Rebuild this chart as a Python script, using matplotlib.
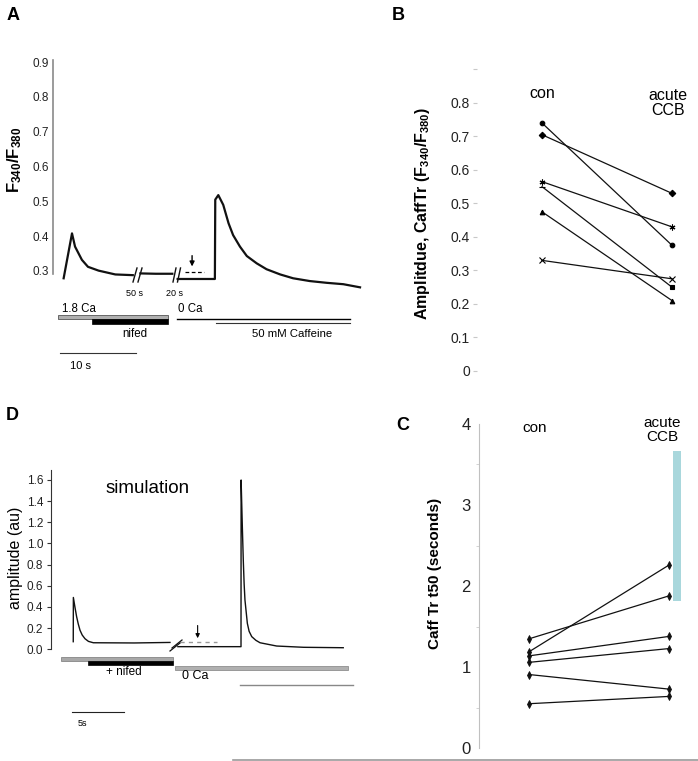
import matplotlib
matplotlib.use("Agg")
import matplotlib.pyplot as plt
from matplotlib.lines import Line2D
from matplotlib.patches import Rectangle

plt.rcParams['font.family'] = ['Liberation Sans', 'DejaVu Sans']
plt.rcParams['mathtext.fontset'] = 'custom'
plt.rcParams['mathtext.rm'] = 'Liberation Sans'
plt.rcParams['mathtext.bf'] = 'Liberation Sans:bold'
plt.rcParams['mathtext.it'] = 'Liberation Sans:italic'

# ---------------- data ----------------
# Panel A: measured F340/F380 trace (time in s, display time with breaks)
a_t1 = [1.4, 2.5, 2.9, 3.8, 4.6, 6.0, 8.2, 10.5]
a_y1 = [0.279, 0.408, 0.370, 0.332, 0.312, 0.301, 0.290, 0.288]
a_t2 = [11.5, 13.5, 15.7]
a_y2 = [0.293, 0.292, 0.292]
a_t3 = [16.4, 21.3, 21.35, 21.75, 22.4, 23.1, 23.7, 24.6, 25.5, 26.8, 28.1,
        29.9, 31.6, 33.8, 36.0, 38.2, 40.4]
a_y3 = [0.277, 0.277, 0.505, 0.518, 0.490, 0.437, 0.403, 0.370, 0.343, 0.322,
        0.305, 0.290, 0.279, 0.271, 0.266, 0.262, 0.253]
a_ticks = [0.3, 0.4, 0.5, 0.6, 0.7, 0.8, 0.9]

# Panel B: caffeine transient amplitude
b_groups = ['con', 'acute\nCCB']
b_con = [0.74, 0.705, 0.565, 0.55, 0.475, 0.33]
b_ccb = [0.375, 0.53, 0.43, 0.25, 0.21, 0.275]
b_ticks = [0, 0.1, 0.2, 0.3, 0.4, 0.5, 0.6, 0.7, 0.8, 0.9]
b_ticklabels = ['0', '0.1', '0.2', '0.3', '0.4', '0.5', '0.6', '0.7', '0.8', '']

# Panel C: caffeine transient t50
c_groups = ['con', 'acute\nCCB']
c_con = [1.35, 1.19, 1.14, 1.06, 0.91, 0.55]
c_ccb = [1.88, 2.26, 1.38, 1.23, 0.73, 0.64]
c_band = (1.82, 3.66)
c_ticks = [0, 1, 2, 3, 4]

# Panel D: simulation trace
d_t1 = [2.14, 2.15, 2.30, 2.46, 2.62, 2.79, 3.0, 3.27, 3.6, 4.07, 8.0, 11.44]
d_y1 = [0.072, 0.49, 0.40, 0.31, 0.24, 0.18, 0.135, 0.10, 0.075, 0.062, 0.060, 0.065]
d_t2 = [12.2, 18.27, 18.28, 18.40, 18.49, 18.57, 18.65, 18.88, 19.05, 19.3,
        19.7, 20.1, 21.7, 24.3, 28.1]
d_y2 = [0.025, 0.025, 1.60, 1.15, 0.84, 0.62, 0.466, 0.245, 0.17, 0.12,
        0.085, 0.062, 0.031, 0.019, 0.015]
d_ticks = [0.0, 0.2, 0.4, 0.6, 0.8, 1.0, 1.2, 1.4, 1.6]

# ---------------- layout helpers ----------------
W, H = 698, 761
fig = plt.figure(figsize=(W / 100, H / 100), dpi=100)


def add_ax(l, t, r, b):
    return fig.add_axes([l / W, 1 - b / H, (r - l) / W, (b - t) / H])


def ftext(x, y, s, **kw):
    fig.text(x / W, 1 - y / H, s, **kw)


def fline(x1, y1, x2, y2, **kw):
    fig.add_artist(Line2D([x1 / W, x2 / W], [1 - y1 / H, 1 - y2 / H],
                          transform=fig.transFigure, **kw))


def frect(l, t, r, b, **kw):
    fig.add_artist(Rectangle((l / W, 1 - b / H), (r - l) / W, (b - t) / H,
                             transform=fig.transFigure, **kw))


# ---------------- Panel A ----------------
axA = add_ax(53, 50, 362, 300)
axA.set_xlim(0, 309 / 7.6)
axA.set_ylim(0.2166, 0.935)
for s in ['top', 'right', 'bottom']:
    axA.spines[s].set_visible(False)
axA.spines['left'].set_color('#8a8a8a')
axA.spines['left'].set_linewidth(1.2)
axA.spines['left'].set_bounds(0.29, 0.905)
axA.set_xticks([])
axA.set_yticks(a_ticks)
axA.set_yticklabels([f'{v:.1f}' for v in a_ticks])
axA.tick_params(axis='y', length=0, pad=2.7, labelsize=8.5, labelcolor='#222222')
for tt, yy in [(a_t1, a_y1), (a_t2, a_y2), (a_t3, a_y3)]:
    axA.plot(tt, yy, color='#111111', lw=1.6)
axA.hlines(0.297, 17.4, 19.9, colors='black', linestyles=(0, (3, 2)), lw=0.9)
axA.annotate('', xy=(18.3, 0.305), xytext=(18.3, 0.352),
             arrowprops=dict(arrowstyle='-|>', color='black', lw=1.0,
                             mutation_scale=7))
# break marks
for x1, x2 in [(133, 137), (138, 142), (173, 176), (177.5, 180.5)]:
    fline(x1, 282, x2, 268, color='#111111', lw=1.0)
ftext(135, 293, '50 s', fontsize=6.5, ha='center', va='center')
ftext(175, 293, '20 s', fontsize=6.5, ha='center', va='center')
# protocol bars
frect(58, 315, 168, 319, facecolor='#b0b0b0', edgecolor='#555555', lw=0.6)
frect(92, 318.5, 168, 324, facecolor='black', edgecolor='black', lw=0.5)
fline(177, 319, 350, 319, color='black', lw=1.0)
fline(216, 323, 350, 323, color='#333333', lw=0.8)
ftext(62, 309, '1.8 Ca', fontsize=8.3, ha='left', va='center')
ftext(135, 334, 'nifed', fontsize=8.3, ha='center', va='center')
ftext(178, 309, '0 Ca', fontsize=8.3, ha='left', va='center')
ftext(292, 334, '50 mM Caffeine', fontsize=8.2, ha='center', va='center')
fline(60, 353, 136, 353, color='#333333', lw=0.8)
ftext(70, 366, '10 s', fontsize=8, ha='left', va='center')
ftext(15, 160, r'F$_{\mathbf{340}}$/F$_{\mathbf{380}}$', fontsize=12,
      fontweight='bold', rotation=90, ha='center', va='center')
ftext(13, 15, 'A', fontsize=13, fontweight='bold', ha='center', va='center')

# ---------------- Panel B ----------------
axB = add_ax(477, 60, 698, 380)
axB.set_xlim(-0.5, 1.2)
axB.set_ylim(-0.027, 0.928)
for s in axB.spines.values():
    s.set_visible(False)
axB.set_xticks([])
axB.set_yticks(b_ticks)
axB.set_yticklabels(b_ticklabels)
axB.tick_params(axis='y', length=3, width=0.8, color='#c8c8c8', pad=2,
                labelsize=10, labelcolor='#222222')
star = (6, 2, 0)
con_mk = ['o', 'D', star, '_', '^', 'x']
ccb_mk = ['o', 'D', star, 's', '^', 'x']
for i in range(len(b_con)):
    axB.plot([0, 1], [b_con[i], b_ccb[i]], color='#111111', lw=0.9)
    for xv, yv, mk in [(0, b_con[i], con_mk[i]), (1, b_ccb[i], ccb_mk[i])]:
        ms = 4.2 if mk in ('x', star, '_') else 3.3
        axB.plot([xv], [yv], marker=mk, color='black', ms=ms, mew=0.8,
                 linestyle='none')
axB.text(0, 0.8 + (103 - 94) / 335, b_groups[0], fontsize=11.5, ha='center',
         va='center')
axB.text(0.97, 0.8 + (103 - 103.5) / 335, b_groups[1], fontsize=11.5,
         ha='center', va='center', linespacing=1.0)
ftext(423, 213, r'Amplitdue, CaffTr (F$_{\mathbf{340}}$/F$_{\mathbf{380}}$)',
      fontsize=11.5, fontweight='bold', rotation=90, ha='center', va='center')
ftext(398, 15, 'B', fontsize=13, fontweight='bold', ha='center', va='center')

# ---------------- Panel C ----------------
axC = add_ax(479, 415, 698, 760)
axC.set_xlim(-0.357, 1.207)
axC.set_ylim(-0.144, 4.11)
for s in ['top', 'right', 'bottom']:
    axC.spines[s].set_visible(False)
axC.spines['left'].set_color('#c0c0c0')
axC.spines['left'].set_linewidth(0.8)
axC.spines['left'].set_bounds(0, 4)
axC.set_xticks([])
axC.set_yticks(c_ticks)
axC.set_yticklabels([str(v) for v in c_ticks])
axC.set_yticks([0.5, 1.5, 2.5, 3.5], minor=True)
axC.tick_params(axis='y', which='major', length=0, pad=6, labelsize=12,
                labelcolor='#222222')
axC.tick_params(axis='y', which='minor', length=2, width=0.6, color='#cccccc')
axC.bar([1.06], [c_band[1] - c_band[0]], bottom=c_band[0], width=8 / 140,
        color='#a9d7dc', edgecolor='none')
for i in range(len(c_con)):
    axC.plot([0, 1], [c_con[i], c_ccb[i]], color='#111111', lw=0.9,
             marker='d', ms=4, mew=0.6)
axC.text(0.04, 4 + (424 - 428) / 81, c_groups[0], fontsize=11, ha='center',
         va='center')
axC.text(0.95, 4 + (424 - 430) / 81, c_groups[1], fontsize=11, ha='center',
         va='center', linespacing=1.0)
ftext(435, 573, 'Caff Tr t50 (seconds)', fontsize=11, fontweight='bold',
      rotation=90, ha='center', va='center')
ftext(403, 425, 'C', fontsize=13, fontweight='bold', ha='center', va='center')
fline(233, 760, 698, 760, color='#9a9a9a', lw=1.2)

# ---------------- Panel D ----------------
axD = add_ax(51, 460, 360, 660)
axD.set_xlim(0, 309 / 10.4)
axD.set_ylim(-0.101, 1.789)
for s in ['top', 'right', 'bottom']:
    axD.spines[s].set_visible(False)
axD.spines['left'].set_color('#333333')
axD.spines['left'].set_linewidth(0.8)
axD.spines['left'].set_bounds(0, 1.69)
axD.set_xticks([])
axD.set_yticks(d_ticks)
axD.set_yticklabels([f'{v:.1f}' for v in d_ticks])
axD.tick_params(axis='y', length=3, width=0.8, color='#333333', pad=2.5,
                labelsize=8.5, labelcolor='#222222')
axD.plot(d_t1, d_y1, color='#111111', lw=1.0)
axD.plot(d_t2, d_y2, color='#111111', lw=1.0)
axD.hlines(0.072, 12.4, 16.0, colors='#999999', linestyles=(0, (3, 3)), lw=1.0)
axD.annotate('', xy=(14.1, 0.105), xytext=(14.1, 0.225),
             arrowprops=dict(arrowstyle='-|>', color='black', lw=0.8,
                             mutation_scale=6, shrinkA=0, shrinkB=0))
fline(170, 651, 180, 643, color='#111111', lw=0.9)
fline(172, 648, 182, 640, color='#111111', lw=0.9)
frect(61, 657, 173, 661, facecolor='#a8a8a8', edgecolor='#777777', lw=0.5)
frect(88, 661, 173, 665, facecolor='black', edgecolor='black', lw=0.5)
frect(175, 666, 348, 670, facecolor='#b0b0b0', edgecolor='#808080', lw=0.5)
fline(240, 685, 353, 685, color='#888888', lw=1.0)
ftext(124, 672, '+ nifed', fontsize=8.5, ha='center', va='center')
ftext(182, 676, '0 Ca', fontsize=9, ha='left', va='center')
fline(72, 712, 124, 712, color='#222222', lw=0.8)
ftext(78, 723, '5s', fontsize=6.5, ha='left', va='center')
ftext(148, 493, 'simulation', fontsize=13.5, ha='center', va='baseline')
ftext(16, 558, 'amplitude (au)', fontsize=11.5, rotation=90, ha='center',
      va='center')
ftext(12, 415, 'D', fontsize=13, fontweight='bold', ha='center', va='center')

fig.savefig('out.png', dpi=100)
